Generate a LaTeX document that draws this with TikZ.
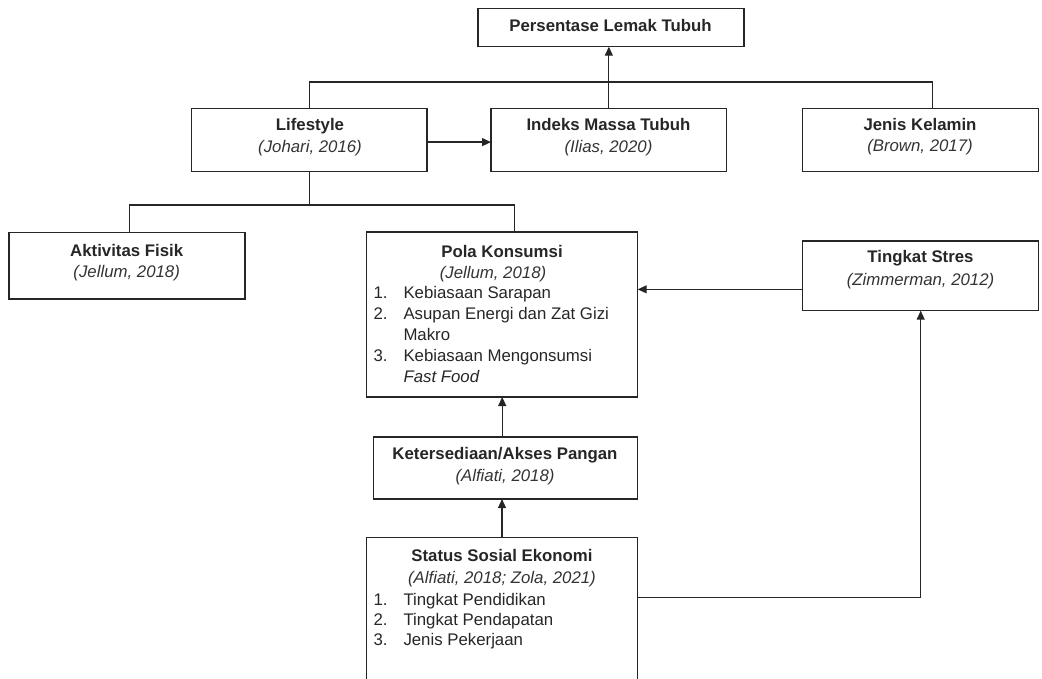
\documentclass[tikz,border=0pt]{standalone}
\usepackage{fontspec}
\setmainfont{Liberation Sans}
\usetikzlibrary{arrows.meta}
\begin{document}
\begin{tikzpicture}[x=1pt,y=-1pt,
  bx/.style={draw=black!85, line width=1.2pt, inner sep=0pt, outer sep=0pt, anchor=north west},
  ttl/.style={font=\fontsize{16.8}{21}\selectfont\bfseries, text=black!85, anchor=base, inner sep=0pt},
  cite/.style={font=\fontsize{16.8}{21}\selectfont\itshape, text=black!80, anchor=base, inner sep=0pt},
  lst/.style={font=\fontsize{16.8}{21}\selectfont, text=black!85, anchor=base west, inner sep=0pt},
  conn/.style={draw=black!85, line width=1.2pt},
  arr/.style={conn, -{Triangle[length=9pt,width=8pt]}}]
\useasboundingbox (0,0) rectangle (1042,679);
\clip (0,0) rectangle (1042,679);
% boxes
\node[bx, minimum width=266pt, minimum height=38.4pt] (pers) at (478,8.3) {};
\node[bx, minimum width=235.3pt, minimum height=63.2pt] (life) at (191.7,108.5) {};
\node[bx, minimum width=235.7pt, minimum height=63.2pt] (ind) at (491,108.5) {};
\node[bx, minimum width=236pt, minimum height=63.2pt] (jen) at (802.7,108.5) {};
\node[bx, minimum width=236pt, minimum height=66.7pt] (akt) at (9,232.3) {};
\node[bx, minimum width=271pt, minimum height=165pt] (pola) at (366.7,232) {};
\node[bx, minimum width=236pt, minimum height=69.7pt] (stres) at (802.7,241) {};
\node[bx, minimum width=264.2pt, minimum height=62pt] (ket) at (373.3,437) {};
\node[bx, minimum width=270.6pt, minimum height=170pt] (stat) at (366.7,537.7) {};
% texts
\node[ttl] (tpers) at (610.5,32) {Persentase Lemak Tubuh};
\node[ttl] (tlife) at (310,131) {Lifestyle};
\node[cite] (clife) at (310,152.5) {(Johari, 2016)};
\node[ttl] (tind) at (608.5,131) {Indeks Massa Tubuh};
\node[cite] (cind) at (608.5,152.5) {(Ilias, 2020)};
\node[ttl] (tjen) at (920,131) {Jenis Kelamin};
\node[cite] (cjen) at (920,152) {(Brown, 2017)};
\node[ttl] (takt) at (126.7,256.7) {Aktivitas Fisik};
\node[cite] (cakt) at (126.7,277) {(Jellum, 2018)};
\node[ttl] (tpola) at (502,257.7) {Pola Konsumsi};
\node[cite] (cpola) at (493,278.5) {(Jellum, 2018)};
\node[lst] (p1n) at (373.3,298.5) {1.};
\node[lst] (p1) at (403.3,298.5) {Kebiasaan Sarapan};
\node[lst] (p2n) at (373.3,319.5) {2.};
\node[lst] (p2) at (403.3,319.5) {Asupan Energi dan Zat Gizi};
\node[lst] (p2b) at (403.3,340.5) {Makro};
\node[lst] (p3n) at (373.3,361.5) {3.};
\node[lst] (p3) at (403.3,361.5) {Kebiasaan Mengonsumsi};
\node[lst, font=\fontsize{16.8}{21}\selectfont\itshape] (p3b) at (403.3,382.5) {Fast Food};
\node[ttl] (tstres) at (920.5,262.7) {Tingkat Stres};
\node[cite] (cstres) at (920.5,286) {(Zimmerman, 2012)};
\node[ttl] (tket) at (505,459.3) {Ketersediaan/Akses Pangan};
\node[cite] (cket) at (505,481) {(Alfiati, 2018)};
\node[ttl] (tstat) at (502,561.7) {Status Sosial Ekonomi};
\node[cite] (cstat) at (502,583.3) {(Alfiati, 2018; Zola, 2021)};
\node[lst] (s1n) at (373.3,605) {1.};
\node[lst] (s1) at (403.3,605) {Tingkat Pendidikan};
\node[lst] (s2n) at (373.3,625) {2.};
\node[lst] (s2) at (403.3,625) {Tingkat Pendapatan};
\node[lst] (s3n) at (373.3,645) {3.};
\node[lst] (s3) at (403.3,645) {Jenis Pekerjaan};
% connectors
\coordinate (h1) at (0,82);
\coordinate (h2) at (0,205);
\coordinate (jtop) at ([xshift=11.6pt]jen.north);
\coordinate (ptop) at ([xshift=12pt]pola.north);
\coordinate (atop) at ([xshift=2.7pt]akt.north);
\coordinate (sr) at ([yshift=-59.6pt]stat.north east);
\draw[arr] (ind.north) -- (ind.north |- pers.south);
\draw[conn] (life.north) |- (h1 -| jtop) -- (jtop);
\draw[arr] ([yshift=-2pt]life.east) -- ([yshift=-2pt]ind.west);
\draw[conn] (life.south) -- (life.south |- h2);
\draw[conn] (atop) |- (h2 -| ptop) -- (ptop);
\draw[arr] ([yshift=-13.5pt]stres.west) -- ([yshift=-13.5pt]stres.west -| pola.east);
\draw[arr] (pola.south |- ket.north) -- (pola.south);
\draw[arr] (stat.north) -- (stat.north |- ket.south);
\draw[arr] (sr) -| (stres.south);
\end{tikzpicture}
\end{document}
